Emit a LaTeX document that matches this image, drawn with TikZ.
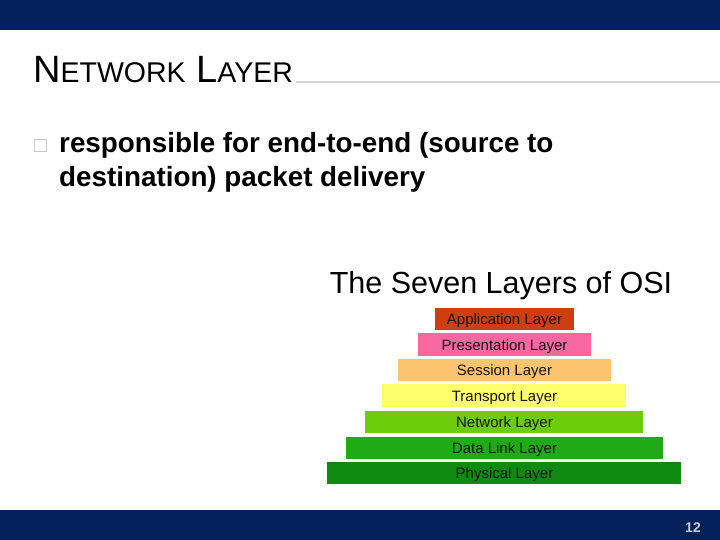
\documentclass[tikz,border=0pt]{standalone}
\usepackage{fontspec}
\setmainfont{Liberation Sans}
\definecolor{navy}{HTML}{03215A}
\definecolor{rulegray}{HTML}{D4D4D4}
\definecolor{bulletgray}{HTML}{C8C8C8}
\definecolor{pagenum}{HTML}{C5CCE0}
\definecolor{cApp}{HTML}{CF3E0E}
\definecolor{cPre}{HTML}{F868A0}
\definecolor{cSes}{HTML}{FBC46E}
\definecolor{cTra}{HTML}{FFFF6B}
\definecolor{cNet}{HTML}{6BCC0A}
\definecolor{cDat}{HTML}{20AA16}
\definecolor{cPhy}{HTML}{0E8A10}
\definecolor{labeltext}{HTML}{141414}
\tikzset{
  layerlabel/.style={font=\fontsize{15}{15}\selectfont, text=labeltext, anchor=base, inner sep=0pt},
  bodytext/.style={font=\fontsize{27.8}{27.8}\selectfont\bfseries, anchor=base west, inner sep=0pt}
}
\begin{document}
\begin{tikzpicture}[x=1pt,y=-1pt]
\useasboundingbox (0,0) rectangle (720,540);
\fill[white] (0,0) rectangle (720,540);
% bars
\fill[navy] (0,0) rectangle (720,30);
\fill[navy] (0,510) rectangle (720,540);
% title
\node[anchor=base west, inner sep=0pt] (title) at (33,83)
  {\fontsize{38}{38}\selectfont N\fontsize{28.5}{28.5}\selectfont ETWORK\fontsize{38}{38}\selectfont\ L\fontsize{28.5}{28.5}\selectfont AYER};
\draw[rulegray, line width=1.6pt] (296,82) -- (720,82);
% bullet
\draw[bulletgray, line width=0.8pt] (34.5,139.5) rectangle (46.5,151.5);
\node[bodytext] (line1) at (59,153) {responsible for end-to-end (source to};
\node[bodytext] (line2) at (59,187) {destination) packet delivery};
% OSI figure
\node[anchor=base, inner sep=0pt, font=\fontsize{30.5}{30.5}\selectfont] (osititle) at (501,293) {The Seven Layers of OSI};
\fill[cApp] (435,308) rectangle (574,330);
\node[layerlabel] (app) at (504.5,324.5) {Application Layer};
\fill[cPre] (418,333) rectangle (591,356);
\node[layerlabel] (pre) at (504.5,350) {Presentation Layer};
\fill[cSes] (398,359) rectangle (611,381);
\node[layerlabel] (ses) at (504.5,375.5) {Session Layer};
\fill[cTra] (382,384) rectangle (626,407);
\node[layerlabel] (tra) at (504.5,401) {Transport Layer};
\fill[cNet] (365,411) rectangle (643,433);
\node[layerlabel] (net) at (504.5,427.5) {Network Layer};
\fill[cDat] (346,437) rectangle (663,459);
\node[layerlabel] (dat) at (504.5,453.5) {Data Link Layer};
\fill[cPhy] (327,462) rectangle (681,484);
\node[layerlabel] (phy) at (504.5,478.5) {Physical Layer};
% page number
\node[anchor=base east, inner sep=0pt, text=pagenum, font=\fontsize{14}{14}\selectfont\bfseries] (pg) at (701,532) {12};
\end{tikzpicture}
\end{document}
